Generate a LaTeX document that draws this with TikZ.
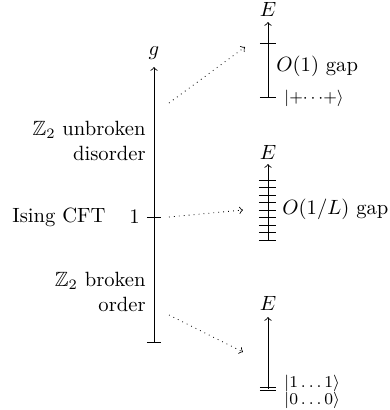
\documentclass[tikz,border=0pt]{standalone}
\usepackage{amssymb}
\begin{document}
\begin{tikzpicture}[x=0.485pt,y=-0.485pt,
  axis/.style={->,thin},
  tick/.style={thin},
  flow/.style={->,dotted,thin},
  lbl/.style={inner sep=0pt}]
\useasboundingbox (0,0) rectangle (390,410);
% g axis
\coordinate (gb) at (154,342);
\coordinate (gt) at (154,67);
\coordinate (g1) at (154,217);
\draw[axis] (gb) -- (gt);
\node[lbl,anchor=south] (glab) at (154,60) {$g$};
\draw[tick] ([xshift=-7*0.485pt]gb) -- ([xshift=7*0.485pt]gb);
\draw[tick] ([xshift=-7*0.485pt]g1) -- ([xshift=7*0.485pt]g1);
\node[lbl,anchor=east] (one) at (140,217) {$1$};
\node[lbl,anchor=center] (ising) at (59,217) {Ising CFT};
\node[lbl,anchor=east,align=right] (unbr) at (146,141) {$\mathbb{Z}_2$ unbroken\\disorder};
\node[lbl,anchor=east,align=right] (br) at (146,292) {$\mathbb{Z}_2$ broken\\order};
% flow arrows
\coordinate (f1s) at (169,103); \coordinate (f1e) at (245,47);
\coordinate (f2s) at (169,217); \coordinate (f2e) at (243,210);
\coordinate (f3s) at (169,315); \coordinate (f3e) at (243,352);
\draw[flow] (f1s) -- (f1e);
\draw[flow] (f2s) -- (f2e);
\draw[flow] (f3s) -- (f3e);
% top spectrum
\coordinate (t0) at (268,97); \coordinate (tt) at (268,22);
\draw[axis] (t0) -- (tt);
\node[lbl,anchor=south] (tE) at (268,17) {$E$};
\draw[tick] (260,97) -- (276,97);
\draw[tick] (260,43) -- (276,43);
\node[lbl,anchor=west] (tgap) at (276,66) {$O(1)$ gap};
\node[lbl,anchor=west] (tst) at (284,98) {\footnotesize$|{+}{\cdots}{+}\rangle$};
% middle spectrum
\coordinate (m0) at (268,240); \coordinate (mt) at (268,164);
\draw[axis] (m0) -- (mt);
\node[lbl,anchor=south] (mE) at (268,160) {$E$};
\foreach \i in {0,...,8} \draw[tick] (259,240-\i*7.5) -- (276,240-\i*7.5);
\node[lbl,anchor=west] (mgap) at (282,209) {$O(1/L)$ gap};
% bottom spectrum
\coordinate (b0) at (268,389); \coordinate (bt) at (268,317);
\draw[axis] (b0) -- (bt);
\node[lbl,anchor=south] (bE) at (268,311) {$E$};
\draw[tick] (260,387) -- (276,387);
\draw[tick] (260,390.5) -- (276,390.5);
\node[lbl,anchor=west,align=left,font=\footnotesize] (bst) at (284,392)
  {$|1\ldots1\rangle$\\[-1pt]$|0\ldots0\rangle$};
\end{tikzpicture}
\end{document}
